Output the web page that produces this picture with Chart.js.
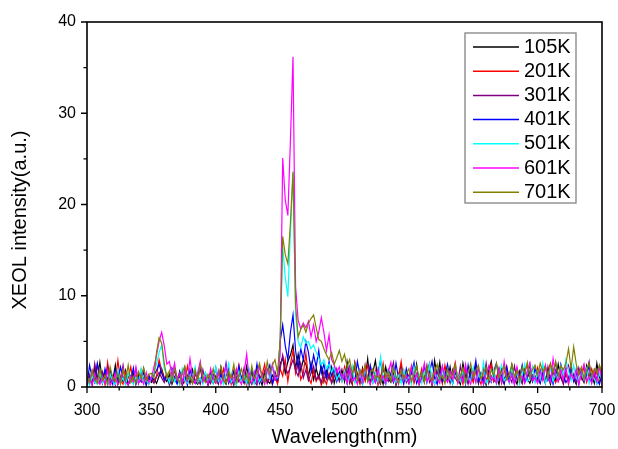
<!DOCTYPE html>
<html>
<head>
<meta charset="utf-8">
<script src="https://cdn.jsdelivr.net/npm/chart.js@4.4.1/dist/chart.umd.min.js"></script>
<style>
  html, body { margin: 0; padding: 0; background: #fff; }
</style>
</head>
<body>
<canvas id="xeol" width="618" height="449"></canvas>
<script>
// wavelength grid, 300 -> 700 nm every 2 nm
const wavelengths = [];
for (let w = 300; w <= 700; w += 2) wavelengths.push(w);

const temperatures = ["105K", "201K", "301K", "401K", "501K", "601K", "701K"];

// XEOL spectra (a.u.), one line per 50 nm
const xeol105 = [
  0.4,1.2,0.3,2.1,0.8,2.7,0.5,1.6,0.2,1.9,0.7,2.4,0.3,1.1,0.6,1.8,0.2,0.9,1.5,0.4,1.3,0.6,2.0,0.3,1.0,
  0.5,0.9,0.4,1.2,2.0,1.0,0.6,1.4,0.3,1.1,0.5,1.7,0.2,0.8,1.3,0.4,1.9,0.6,0.3,1.0,0.7,1.5,0.2,0.9,0.4,
  1.2,0.4,2.2,0.7,0.3,1.5,0.9,0.2,1.8,0.6,1.1,0.4,2.3,0.8,0.3,1.4,0.5,1.0,0.2,1.6,0.7,0.4,1.3,0.9,0.5,
  2.5,3.2,1.5,2.8,3.5,4.6,2.0,3.6,1.8,3.0,2.5,1.2,2.6,0.8,2.0,1.0,2.4,0.6,1.8,0.9,2.2,0.4,1.5,0.7,1.9,
  0.6,2.8,1.0,0.3,2.6,1.4,0.5,2.1,0.8,3.1,0.4,1.6,2.9,0.7,1.2,0.3,2.2,0.9,0.5,1.7,0.2,1.3,2.4,0.6,1.0,
  0.4,1.8,0.7,2.5,0.3,1.1,0.6,2.0,1.4,0.2,2.9,1.0,2.7,0.5,1.3,0.8,2.2,0.4,1.6,0.9,0.3,2.6,1.2,0.5,1.9,
  0.7,2.3,0.4,1.5,0.9,0.2,1.8,2.8,0.6,1.1,0.3,2.0,0.8,1.4,0.5,2.4,1.0,0.3,1.7,0.6,2.1,0.9,0.4,1.3,0.7,
  1.6,0.5,2.2,0.8,1.2,0.3,1.9,0.6,2.5,1.0,0.4,1.5,0.7,2.0,0.9,0.3,1.8,1.1,0.5,2.3,0.8,1.4,0.4,2.6,1.0,
  1.2
];
const xeol201 = [
  1.0,0.3,1.8,0.6,2.4,0.9,1.4,0.2,2.7,0.8,1.2,0.5,2.9,0.7,0.3,1.6,1.0,2.2,0.4,1.3,0.8,1.9,0.5,1.1,0.3,
  0.9,0.6,1.2,3.0,1.8,0.8,1.5,0.4,2.0,0.7,1.1,0.3,1.7,0.6,2.3,0.9,0.4,1.4,0.8,2.1,0.5,1.0,0.3,1.6,0.7,
  0.4,1.5,0.8,2.0,0.5,1.2,0.3,1.8,0.9,2.4,0.6,1.1,0.2,1.6,0.8,0.4,2.2,0.7,1.3,2.5,0.5,1.0,0.3,1.2,0.3,
  2.0,1.2,3.0,0.6,2.5,4.0,1.5,2.8,0.8,1.5,3.7,1.0,0.4,1.8,0.6,1.2,0.2,1.0,0.3,1.5,0.5,2.0,0.8,1.4,0.6,
  2.2,0.9,1.6,0.4,2.7,1.1,0.3,1.9,0.7,2.4,1.3,0.5,1.8,0.2,1.0,2.6,0.6,1.4,0.8,2.1,0.4,1.2,2.8,0.7,1.5,
  0.9,2.3,0.4,1.3,0.8,2.0,0.5,1.6,2.6,0.3,1.1,0.7,1.9,0.4,2.4,1.0,0.6,1.5,2.7,0.8,1.2,0.3,2.0,0.9,1.4,
  0.5,1.8,1.0,0.3,2.2,0.7,1.4,2.5,0.6,1.1,1.9,0.4,1.6,2.3,0.8,1.2,0.5,2.0,1.0,0.4,1.7,2.4,0.9,1.3,0.6,
  2.1,0.8,1.5,0.4,1.8,2.6,1.0,0.5,1.3,2.2,0.7,1.6,0.3,2.4,1.1,0.6,1.9,0.9,2.3,0.5,1.2,2.0,0.8,1.7,0.4,
  2.0
];
const xeol301 = [
  0.6,1.4,0.3,2.6,1.0,0.5,1.7,0.8,2.2,0.4,1.1,0.2,1.5,0.9,2.4,0.6,0.3,1.2,0.7,2.0,0.4,1.6,0.9,0.3,1.3,
  0.8,0.4,1.1,1.6,1.0,0.5,1.3,0.2,0.9,1.8,0.6,1.2,0.3,2.1,0.7,1.0,0.4,1.5,0.8,0.3,1.9,0.6,1.1,0.4,1.4,
  0.9,0.3,1.6,0.7,1.2,2.0,0.5,1.0,0.3,1.4,0.8,2.1,0.4,0.9,1.5,0.6,0.2,1.3,0.7,1.8,0.4,1.1,0.6,1.7,0.8,
  2.0,3.5,2.0,1.5,2.2,3.0,1.8,1.2,2.6,1.0,1.9,0.7,1.5,2.3,0.8,1.3,0.5,1.7,0.9,1.4,0.4,1.1,2.0,0.6,1.3,
  0.8,1.9,0.4,1.2,2.5,0.7,1.0,0.3,1.7,0.9,2.2,0.5,1.4,0.8,0.3,2.0,1.1,0.6,1.5,2.7,0.4,1.0,0.7,1.8,0.5,
  1.3,0.6,2.1,0.9,0.4,1.6,1.1,2.4,0.5,1.0,0.3,1.7,0.8,2.2,0.6,1.3,0.4,1.9,1.0,0.5,2.3,0.8,1.2,0.3,1.6,
  1.0,2.0,0.5,1.4,0.8,2.6,0.4,1.1,1.7,0.6,2.1,0.9,0.3,1.5,1.2,0.5,2.3,0.8,1.3,0.4,1.8,1.0,2.5,0.6,1.2,
  0.7,1.9,1.1,0.4,2.2,0.8,1.5,2.7,0.6,1.2,0.3,1.8,2.4,0.9,1.4,0.5,2.1,1.0,0.6,1.6,2.8,0.7,1.3,0.4,2.2,
  1.5
];
const xeol401 = [
  0.2,2.4,1.0,0.5,2.6,1.3,0.4,2.0,0.8,1.5,0.3,1.8,0.6,2.2,1.0,0.4,1.4,0.7,2.1,0.3,1.1,0.6,1.7,0.2,1.2,
  0.7,1.3,1.8,2.5,1.5,0.8,1.2,0.4,2.0,0.9,0.3,1.6,0.6,1.1,0.2,1.9,0.8,0.4,1.3,2.2,0.6,1.0,0.3,1.5,0.8,
  2.1,0.5,1.3,0.8,2.6,0.4,1.0,1.7,0.3,2.3,0.9,0.5,1.4,0.2,1.9,0.7,2.5,0.4,1.1,0.6,1.6,2.4,0.3,1.2,0.8,
  5.0,6.8,4.5,3.0,6.0,7.9,4.0,2.0,4.2,3.0,5.0,3.8,1.8,3.5,2.2,4.0,1.5,2.5,1.0,2.8,1.2,2.1,0.6,1.7,0.9,
  1.4,0.4,2.2,1.0,0.6,2.8,1.3,0.3,1.8,0.7,2.4,1.1,0.5,1.6,2.9,0.8,0.3,1.9,1.2,0.5,2.6,0.9,1.4,0.3,2.0,
  0.7,1.5,2.7,0.4,1.1,0.8,2.3,0.5,1.6,2.8,1.0,0.3,1.8,0.6,1.3,2.5,0.9,0.4,2.0,1.1,0.6,1.7,0.3,2.4,0.8,
  1.2,2.9,0.6,1.5,0.3,2.0,1.0,0.5,1.8,2.6,0.8,1.3,0.4,2.2,0.7,1.6,0.3,1.9,1.1,2.4,0.5,1.0,1.7,0.6,2.1,
  0.9,0.4,1.6,2.3,0.7,1.2,0.3,1.8,0.8,2.5,1.3,0.5,1.0,2.1,0.6,1.5,0.3,1.9,0.8,1.2,2.4,0.5,1.6,0.9,0.3,
  1.4
];
const xeol501 = [
  0.8,0.2,1.2,0.5,0.3,1.6,0.4,0.9,0.2,1.4,0.6,0.3,1.9,0.5,1.0,0.2,1.5,0.7,0.3,1.1,0.5,2.0,0.4,0.8,0.3,
  1.0,1.6,2.5,3.8,4.6,2.0,1.3,0.5,1.8,0.6,1.1,0.3,2.0,0.7,0.4,1.3,0.8,2.2,0.5,1.0,0.3,1.6,0.6,1.2,0.4,
  2.2,0.6,1.0,0.3,1.5,2.6,0.5,0.9,0.2,1.7,0.6,1.2,0.4,2.0,0.8,0.3,1.4,0.6,1.1,0.4,1.8,0.9,2.1,1.0,1.0,
  4.5,15.4,12.0,9.9,17.0,23.5,8.0,5.0,4.3,5.5,4.8,5.0,4.2,4.6,3.8,3.2,2.4,3.0,2.0,2.5,1.6,2.2,0.8,1.4,0.6,
  1.8,0.5,1.1,2.3,0.4,0.9,1.5,0.3,2.0,0.7,1.2,0.4,1.6,0.6,3.3,1.0,0.3,1.7,0.8,2.1,0.5,1.3,0.4,1.9,0.7,
  1.1,0.3,2.2,0.8,1.4,0.4,1.7,0.6,2.5,1.0,0.3,1.3,0.7,2.0,0.5,1.6,0.9,0.3,2.3,1.2,0.6,1.8,0.4,1.1,0.7,
  2.1,0.5,1.4,0.8,2.7,0.4,1.0,0.6,1.9,0.3,1.5,2.4,0.7,1.1,0.4,2.0,0.9,1.6,0.3,1.3,2.5,0.6,1.0,2.2,0.5,
  1.7,0.8,2.6,0.4,1.2,2.0,0.6,1.5,0.9,2.3,1.1,3.0,1.8,0.7,2.4,1.0,0.5,1.6,0.8,2.0,0.4,1.3,0.9,0.3,1.5,
  0.8
];
const xeol601 = [
  0.3,0.9,0.2,1.4,0.6,0.3,1.1,0.4,1.8,0.2,0.7,1.5,0.3,0.8,2.0,0.5,0.2,1.2,0.6,2.2,0.4,0.9,0.3,1.6,0.5,
  1.0,2.2,3.5,5.0,6.0,4.5,2.5,2.8,1.2,2.6,0.8,1.5,0.4,1.9,0.7,3.1,1.0,0.4,1.6,2.8,0.6,1.2,0.3,2.0,0.9,
  0.5,1.8,0.3,1.1,2.4,0.6,1.3,0.4,2.0,0.8,0.3,1.5,3.6,0.9,0.4,1.7,0.6,2.3,1.0,0.3,2.0,1.2,2.5,0.8,1.2,
  3.5,25.1,20.5,18.8,27.0,36.2,11.0,7.3,6.4,7.0,6.5,7.2,5.5,6.8,5.0,6.0,7.6,6.0,4.0,5.7,3.0,2.4,1.6,2.2,0.9,
  1.5,0.4,2.1,0.7,1.0,0.3,1.8,0.6,2.4,0.9,0.3,1.3,0.5,2.0,0.8,1.2,0.4,1.6,2.7,0.6,1.0,0.3,1.9,0.7,1.3,
  0.4,2.2,0.8,1.5,0.3,1.1,2.6,0.6,1.4,0.3,1.8,0.9,0.4,2.3,1.0,0.5,1.7,0.8,2.1,0.4,1.3,0.6,2.5,0.9,0.3,
  1.6,0.5,2.0,0.9,0.3,1.4,2.3,0.7,1.1,0.4,1.9,0.6,2.8,1.0,0.5,1.5,0.3,2.2,0.8,1.2,0.4,1.7,2.6,0.7,1.0,
  0.4,1.8,0.7,2.4,1.0,0.5,3.1,1.2,0.6,1.9,0.8,2.2,0.4,1.4,0.9,2.0,0.3,1.5,2.5,0.7,1.1,0.4,1.8,0.6,2.3,
  0.7
];
const xeol701 = [
  1.2,0.5,1.8,0.9,0.4,2.0,0.7,1.3,0.3,2.2,1.0,0.6,1.5,0.3,1.9,0.8,2.4,0.5,1.1,0.4,1.7,0.9,2.1,0.6,1.4,
  1.5,1.0,3.8,5.4,4.8,2.6,1.0,1.8,0.6,2.0,1.1,0.5,1.6,2.3,0.8,1.2,0.4,1.9,0.7,2.5,1.0,0.5,1.4,0.8,2.0,
  0.6,1.3,2.2,0.8,0.4,1.7,1.0,2.5,0.5,1.2,2.0,0.7,1.4,0.4,2.3,0.9,1.6,2.6,1.1,0.6,2.8,1.5,2.4,3.0,1.5,
  5.0,16.5,14.5,13.5,18.0,23.6,9.0,5.5,6.3,6.8,6.0,7.0,7.5,7.9,6.5,5.2,5.0,4.2,3.5,3.0,3.8,2.5,3.2,4.0,2.8,
  3.6,2.2,3.0,1.4,2.6,0.8,1.9,1.2,2.4,0.6,1.6,2.0,0.9,1.3,0.5,2.3,1.0,1.7,0.7,2.1,1.2,0.4,1.8,0.9,1.5,
  2.0,0.6,1.4,2.3,0.9,1.6,0.5,2.2,1.1,0.7,1.8,2.5,0.8,1.3,0.4,2.0,1.0,1.6,2.4,0.7,1.2,2.1,0.5,1.5,2.6,
  1.0,1.8,2.4,0.9,1.5,2.2,0.7,1.9,1.3,2.6,1.0,1.7,2.3,0.8,1.4,2.5,1.1,1.8,0.6,2.2,1.5,2.7,1.0,1.9,2.4,
  1.3,2.6,1.7,2.2,1.0,2.5,1.6,2.8,1.2,2.3,1.9,2.6,4.2,2.0,4.4,2.5,1.4,2.2,0.9,1.8,2.6,1.1,2.0,1.5,2.4,
  1.6
];

const spectra = [xeol105, xeol201, xeol301, xeol401, xeol501, xeol601, xeol701];
const colors = ["#000000", "#ff0000", "#800080", "#0000ff", "#00ffff", "#ff00ff", "#808000"];

const xTicks = { min: 300, max: 700, major: 50, minor: 25 };
const yTicks = { min: 0, max: 40, major: 10, minor: 5 };

const FONT = "'Liberation Sans', Arial, sans-serif";

// box frame, outward tick marks, legend and axis titles
const decorations = {
  id: "decorations",
  afterDraw(chart) {
    const { ctx, chartArea: a, scales: { x, y } } = chart;
    ctx.save();
    ctx.strokeStyle = "#000";
    ctx.lineWidth = 1.6;
    ctx.strokeRect(a.left, a.top, a.right - a.left, a.bottom - a.top);

    ctx.lineWidth = 1.3;
    ctx.beginPath();
    for (let v = xTicks.min; v <= xTicks.max; v += xTicks.minor) {
      const px = x.getPixelForValue(v);
      const len = v % xTicks.major === 0 ? 6 : 3.5;
      ctx.moveTo(px, a.bottom);
      ctx.lineTo(px, a.bottom + len);
    }
    for (let v = yTicks.min; v <= yTicks.max; v += yTicks.minor) {
      const py = y.getPixelForValue(v);
      const len = v % yTicks.major === 0 ? 6 : 3.5;
      ctx.moveTo(a.left, py);
      ctx.lineTo(a.left - len, py);
    }
    ctx.stroke();

    // legend box
    const bx = a.right - 137, by = a.top + 11;
    ctx.strokeStyle = "#8c8c8c";
    ctx.lineWidth = 1.4;
    ctx.strokeRect(bx, by, 111, 170);
    ctx.font = "20px " + FONT;
    ctx.textBaseline = "middle";
    ctx.textAlign = "left";
    temperatures.forEach((t, i) => {
      const ry = by + 14 + i * 24.2;
      ctx.strokeStyle = colors[i];
      ctx.lineWidth = 1.5;
      ctx.beginPath();
      ctx.moveTo(bx + 8, ry);
      ctx.lineTo(bx + 54, ry);
      ctx.stroke();
      ctx.fillStyle = "#000";
      ctx.fillText(t, bx + 59, ry);
    });

    // axis titles
    ctx.fillStyle = "#000";
    ctx.textAlign = "center";
    ctx.fillText("Wavelength(nm)", (a.left + a.right) / 2, 437);
    ctx.translate(20, 220);
    ctx.rotate(-Math.PI / 2);
    ctx.fillText("XEOL intensity(a.u.)", 0, 0);
    ctx.restore();
  }
};

new Chart(document.getElementById("xeol"), {
  type: "line",
  data: {
    labels: wavelengths,
    datasets: spectra.map((s, i) => ({
      label: temperatures[i],
      data: s.map((v, k) => ({ x: wavelengths[k], y: v })),
      borderColor: colors[i],
      borderWidth: 1.2,
      pointRadius: 0,
      tension: 0,
      fill: false,
      order: spectra.length - i
    }))
  },
  options: {
    responsive: false,
    animation: false,
    layout: { padding: { top: 22, right: 16, left: 0, bottom: 0 } },
    plugins: { legend: { display: false }, tooltip: { enabled: false } },
    scales: {
      x: {
        type: "linear",
        min: xTicks.min,
        max: xTicks.max,
        grid: { display: false },
        border: { display: false },
        ticks: { stepSize: xTicks.major, color: "#000", padding: 6, font: { family: FONT, size: 16 } },
        afterFit(s) { s.height = 62; s.paddingLeft = 0; s.paddingRight = 0; }
      },
      y: {
        min: yTicks.min,
        max: yTicks.max,
        grid: { display: false },
        border: { display: false },
        ticks: { stepSize: yTicks.major, color: "#000", padding: 3, font: { family: FONT, size: 16 } },
        afterFit(s) { s.width = 87; s.paddingTop = 0; s.paddingBottom = 0; }
      }
    }
  },
  plugins: [decorations]
});
</script>
</body>
</html>
